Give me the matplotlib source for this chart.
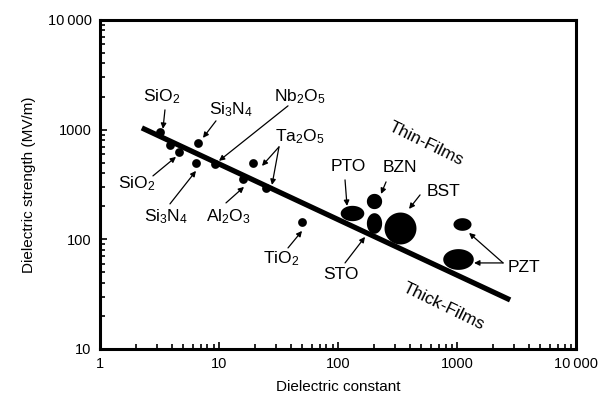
import numpy as np
import matplotlib
matplotlib.use("Agg")
import matplotlib.pyplot as plt
from matplotlib.ticker import FixedLocator, LogLocator, NullFormatter

plt.rcParams['font.family'] = ['Liberation Sans', 'DejaVu Sans']
plt.rcParams['mathtext.fontset'] = 'custom'
plt.rcParams['mathtext.rm'] = 'Liberation Sans'
plt.rcParams['mathtext.it'] = 'Liberation Sans:italic'

# ---- data ----
materials = ["SiO2", "SiO2", "SiO2", "Si3N4", "Si3N4", "Nb2O5", "Ta2O5", "Al2O3",
             "Ta2O5", "TiO2", "PTO", "BZN", "STO", "BST", "PZT", "PZT"]
eps = [3.2, 3.9, 4.6, 6.7, 6.4, 9.2, 19.3, 15.9, 25.0, 50.0, 131, 201, 201, 332, 1100, 1020]
strength = [955, 720, 625, 756, 500, 483, 497, 357, 294, 144, 174, 224, 141, 127, 138, 66]

trend_eps = [2.25, 2790]
trend_strength = [1035, 28]

x_ticks = [1, 10, 100, 1000, 10000]
x_ticklabels = ["1", "10", "100", "1000", "10\u2009000"]
y_ticks = [10, 100, 1000, 10000]
y_ticklabels = ["10", "100", "1000", "10\u2009000"]

# ---- styles (marker width in pt, aspect h/w) ----
mk_w = [6.3, 6.3, 6.3, 6.3, 6.3, 6.3, 6.3, 6.3, 6.3, 6.3, 17, 11, 11, 23, 13, 22]
mk_aspect = [1, 1, 1, 1, 1, 1, 1, 1, 1, 1, 0.65, 1, 1.35, 1, 0.7, 0.68]

fig = plt.figure(figsize=(6.02, 4.13), dpi=100)
ax = fig.add_axes([0.166, 0.155, 0.791, 0.797])
ax.set_xscale('log')
ax.set_yscale('log')
ax.set_xlim(1, 10000)
ax.set_ylim(10, 10000)

ax.plot(trend_eps, trend_strength, color='black', lw=3.8, solid_capstyle='butt', zorder=2)

t = np.linspace(0, 2 * np.pi, 60)
for e, s, w, a in zip(eps, strength, mk_w, mk_aspect):
    if a >= 1:
        verts = np.column_stack([np.cos(t) / a, np.sin(t)])
        size = (w * a) ** 2
    else:
        verts = np.column_stack([np.cos(t), np.sin(t) * a])
        size = w ** 2
    ax.scatter([e], [s], marker=verts, s=size, color='black', zorder=3, linewidths=0)

def fx(px):
    return 10 ** ((px - 100) / 119.0)

def fy(py):
    return 10 ** (4 - (py - 20) / 109.67)

arrow = dict(arrowstyle='-|>', color='black', lw=0.9, mutation_scale=8, shrinkA=0, shrinkB=0)

labels = [
    ("SiO$\\mathregular{_2}$", 162, 97),
    ("SiO$\\mathregular{_2}$", 137, 184),
    ("Si$\\mathregular{_3}$N$\\mathregular{_4}$", 231, 110),
    ("Si$\\mathregular{_3}$N$\\mathregular{_4}$", 166, 217),
    ("Nb$\\mathregular{_2}$O$\\mathregular{_5}$", 300, 97),
    ("Ta$\\mathregular{_2}$O$\\mathregular{_5}$", 300, 137),
    ("Al$\\mathregular{_2}$O$\\mathregular{_3}$", 228, 217),
    ("TiO$\\mathregular{_2}$", 281, 259),
    ("STO", 341, 275),
    ("PTO", 348, 167),
    ("BZN", 400, 168),
    ("BST", 443, 192),
    ("PZT", 524, 268),
]
for txt, px, py in labels:
    ax.text(fx(px), fy(py), txt, fontsize=12.5, ha='center', va='center', zorder=4)

arrows = [
    ((165, 110), (163, 129)),
    ((153, 176), (176, 157)),
    ((216, 121), (203, 138)),
    ((170, 204), (196, 171)),
    ((288, 106), (219, 161)),
    ((279, 147), (262, 166)),
    ((279, 147), (272, 185)),
    ((226, 203), (244, 187)),
    ((288, 248), (302, 231)),
    ((345, 263), (365, 237)),
    ((345, 180), (347, 206)),
    ((386, 182), (381, 194)),
    ((420, 195), (409, 209)),
    ((503, 263), (474, 263)),
    ((503, 263), (469, 233)),
]
for (x0, y0), (x1, y1) in arrows:
    ax.annotate('', xy=(fx(x1), fy(y1)), xytext=(fx(x0), fy(y0)), arrowprops=arrow, zorder=4)

ax.text(fx(426), fy(144), "Thin-Films", fontsize=12.5, ha='center', va='center', rotation=-26)
ax.text(fx(444), fy(307), "Thick-Films", fontsize=12.5, ha='center', va='center', rotation=-26)

ax.xaxis.set_major_locator(FixedLocator(x_ticks))
ax.set_xticklabels(x_ticklabels)
ax.yaxis.set_major_locator(FixedLocator(y_ticks))
ax.set_yticklabels(y_ticklabels)
ax.xaxis.set_minor_locator(LogLocator(base=10, subs=np.arange(2, 10)))
ax.yaxis.set_minor_locator(LogLocator(base=10, subs=np.arange(2, 10)))
ax.xaxis.set_minor_formatter(NullFormatter())
ax.yaxis.set_minor_formatter(NullFormatter())
ax.tick_params(which='both', direction='in', top=False, right=False, labelsize=10.5, width=1.2)
ax.tick_params(which='major', length=5, pad=6)
ax.tick_params(which='minor', length=3.5)
for sp in ax.spines.values():
    sp.set_linewidth(2.2)

ax.set_xlabel("Dielectric constant", fontsize=11, labelpad=6)
ax.set_ylabel("Dielectric strength (MV/m)", fontsize=11, labelpad=8)

fig.savefig("out.png", dpi=100)
